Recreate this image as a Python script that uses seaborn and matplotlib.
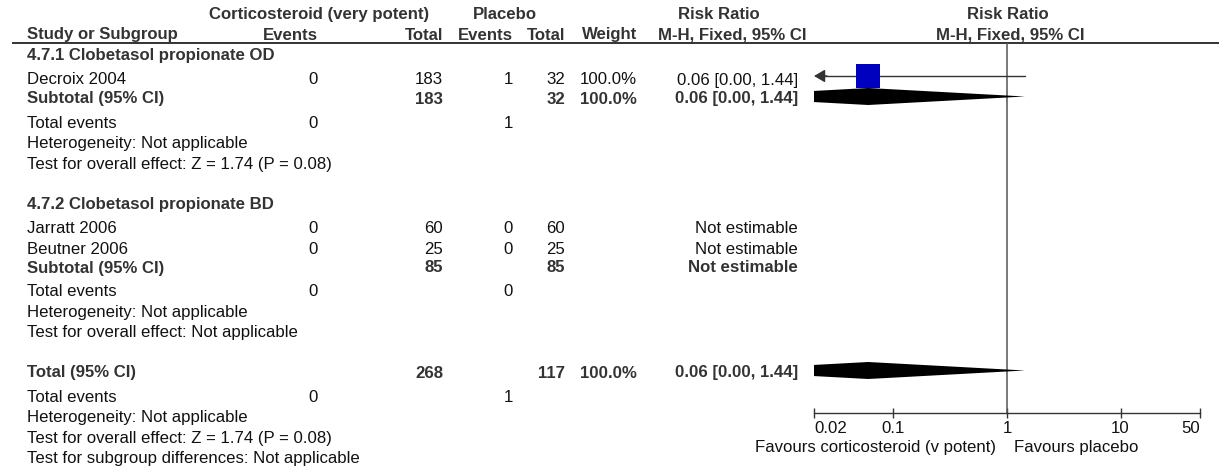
import numpy as np
import pandas as pd
import matplotlib
matplotlib.use("Agg")
import matplotlib.pyplot as plt
from matplotlib.ticker import FixedLocator, NullLocator
import seaborn as sns

# ---------------- data ----------------
group_titles = ["4.7.1 Clobetasol propionate OD", "4.7.2 Clobetasol propionate BD"]

study_names = ["Decroix 2004", "Jarratt 2006", "Beutner 2006"]
study_group = [0, 1, 1]
cs_events = [0, 0, 0]
cs_total = [183, 60, 25]
pl_events = [1, 0, 0]
pl_total = [32, 60, 25]
study_weight = [100.0, np.nan, np.nan]
study_rr = [0.06, np.nan, np.nan]
study_lo = [0.0025, np.nan, np.nan]
study_hi = [1.44, np.nan, np.nan]

sub_weight = [100.0, np.nan]
sub_rr = [0.06, np.nan]
sub_lo = [0.0025, np.nan]
sub_hi = [1.44, np.nan]
sub_heterogeneity = ["Heterogeneity: Not applicable", "Heterogeneity: Not applicable"]
sub_effect = ["Test for overall effect: Z = 1.74 (P = 0.08)",
              "Test for overall effect: Not applicable"]

total_weight = 100.0
total_rr = 0.06
total_lo = 0.0025
total_hi = 1.44
total_heterogeneity = "Heterogeneity: Not applicable"
total_effect = "Test for overall effect: Z = 1.74 (P = 0.08)"
subgroup_diff = "Test for subgroup differences: Not applicable"

axis_ticks = [0.02, 0.1, 1, 10, 50]
axis_tick_labels = ["0.02", "0.1", "1", "10", "50"]
favours_left = "Favours corticosteroid (v potent)"
favours_right = "Favours placebo"

# ---------------- style ----------------
sns.set_theme(style="white")
plt.rcParams["font.family"] = ["Liberation Sans", "DejaVu Sans"]
FS = 12.1
C_TXT = "#111111"
C_BOLD = "#333333"
C_LINE = "#333333"
C_SQUARE = "#0000BF"

W, H = 1219, 470
fig = plt.figure(figsize=(W / 100, H / 100), dpi=100)
fig.patch.set_facecolor("white")

# table layer in pixel units
ax_t = fig.add_axes([0, 0, 1, 1])
ax_t.set_xlim(0, W)
ax_t.set_ylim(H, 0)
ax_t.axis("off")

# forest layer: log risk-ratio axis
AX_LEFT, AX_RIGHT = 814, 1200
AX_TOP, AX_BOTTOM = 43.3, 412.7
ax_f = fig.add_axes([AX_LEFT / W, (H - AX_BOTTOM) / H,
                     (AX_RIGHT - AX_LEFT) / W, (AX_BOTTOM - AX_TOP) / H])
ax_f.patch.set_alpha(0)
ax_f.set_xscale("log")
ax_f.set_xlim(axis_ticks[0], axis_ticks[-1])
ax_f.set_ylim(AX_BOTTOM, AX_TOP)

COL_STUDY = 27
COL_CS_EV, COL_CS_TOT = 318, 443
COL_PL_EV, COL_PL_TOT = 513, 565
COL_WEIGHT, COL_RR = 637, 798


def put(x, y, s, ha="left", bold=False):
    ax_t.text(x, y, s, ha=ha, va="baseline", fontsize=FS,
              fontweight="bold" if bold else "normal",
              color=C_BOLD if bold else C_TXT)


def fmt_rr(rr, lo, hi):
    if np.isnan(rr):
        return "Not estimable"
    return f"{rr:.2f} [{lo:.2f}, {hi:.2f}]"


def diamond(y, rr, lo, hi, half=8.5):
    if np.isnan(rr):
        return
    ax_f.fill([lo, rr, hi, rr], [y, y - half, y, y + half],
              color="black", lw=0, zorder=3)


# ---------------- header ----------------
HDR1, HDR2 = 19, 39.5
put(209, HDR1, "Corticosteroid (very potent)", bold=True)
put(505, HDR1, "Placebo", ha="center", bold=True)
put(719, HDR1, "Risk Ratio", ha="center", bold=True)
put(1008, HDR1, "Risk Ratio", ha="center", bold=True)
put(COL_STUDY, HDR2, "Study or Subgroup", bold=True)
put(COL_CS_EV, HDR2, "Events", ha="right", bold=True)
put(COL_CS_TOT, HDR2, "Total", ha="right", bold=True)
put(COL_PL_EV, HDR2, "Events", ha="right", bold=True)
put(COL_PL_TOT, HDR2, "Total", ha="right", bold=True)
put(COL_WEIGHT, HDR2, "Weight", ha="right", bold=True)
put(807, HDR2, "M-H, Fixed, 95% CI", ha="right", bold=True)
put(1010, HDR2, "M-H, Fixed, 95% CI", ha="center", bold=True)
ax_t.plot([12, W], [AX_TOP, AX_TOP], color=C_LINE, lw=1.4, solid_capstyle="butt")

# ---------------- body ----------------
TITLE_TO_STUDY = 24.5
STUDY_STEP = 20.5
STUDY_TO_SUB = 19
SUB_TO_EVENTS = 24
LINE = 20.5
GAP = 40

y = 60
square_rows = []
for g, title in enumerate(group_titles):
    put(COL_STUDY, y, title, bold=True)
    idx = [i for i, sg in enumerate(study_group) if sg == g]
    y += TITLE_TO_STUDY
    for k, i in enumerate(idx):
        if k:
            y += STUDY_STEP
        put(COL_STUDY, y, study_names[i])
        put(COL_CS_EV, y, f"{cs_events[i]}", ha="right")
        put(COL_CS_TOT, y, f"{cs_total[i]}", ha="right")
        put(COL_PL_EV, y, f"{pl_events[i]}", ha="right")
        put(COL_PL_TOT, y, f"{pl_total[i]}", ha="right")
        if not np.isnan(study_weight[i]):
            put(COL_WEIGHT, y, f"{study_weight[i]:.1f}%", ha="right")
        put(COL_RR, y, fmt_rr(study_rr[i], study_lo[i], study_hi[i]), ha="right")
        if not np.isnan(study_rr[i]):
            square_rows.append(dict(rr=study_rr[i], lo=study_lo[i], hi=study_hi[i],
                                    w=study_weight[i], y=y - 8.5))
    y += STUDY_TO_SUB
    put(COL_STUDY, y, "Subtotal (95% CI)", bold=True)
    put(COL_CS_TOT, y, f"{sum(cs_total[i] for i in idx)}", ha="right", bold=True)
    put(COL_PL_TOT, y, f"{sum(pl_total[i] for i in idx)}", ha="right", bold=True)
    if not np.isnan(sub_weight[g]):
        put(COL_WEIGHT, y, f"{sub_weight[g]:.1f}%", ha="right", bold=True)
    put(COL_RR, y, fmt_rr(sub_rr[g], sub_lo[g], sub_hi[g]), ha="right", bold=True)
    diamond(y - 7, sub_rr[g], sub_lo[g], sub_hi[g])
    y += SUB_TO_EVENTS
    put(COL_STUDY, y, "Total events")
    put(COL_CS_EV, y, f"{sum(cs_events[i] for i in idx)}", ha="right")
    put(COL_PL_EV, y, f"{sum(pl_events[i] for i in idx)}", ha="right")
    y += LINE
    put(COL_STUDY, y, sub_heterogeneity[g])
    y += LINE
    put(COL_STUDY, y, sub_effect[g])
    y += GAP

put(COL_STUDY, y, "Total (95% CI)", bold=True)
put(COL_CS_TOT, y, f"{sum(cs_total)}", ha="right", bold=True)
put(COL_PL_TOT, y, f"{sum(pl_total)}", ha="right", bold=True)
put(COL_WEIGHT, y, f"{total_weight:.1f}%", ha="right", bold=True)
put(COL_RR, y, fmt_rr(total_rr, total_lo, total_hi), ha="right", bold=True)
diamond(y - 7, total_rr, total_lo, total_hi)
y += SUB_TO_EVENTS
put(COL_STUDY, y, "Total events")
put(COL_CS_EV, y, f"{sum(cs_events)}", ha="right")
put(COL_PL_EV, y, f"{sum(pl_events)}", ha="right")
for line in (total_heterogeneity, total_effect, subgroup_diff):
    y += LINE
    put(COL_STUDY, y, line)

# ---------------- forest marks ----------------
ax_f.axvline(1, color="#555555", lw=1.1, zorder=2)

xmin, xmax = ax_f.get_xlim()
for r in square_rows:
    lo_c, hi_c = max(r["lo"], xmin), min(r["hi"], xmax)
    ax_f.plot([lo_c * 1.08, hi_c], [r["y"], r["y"]], color=C_LINE, lw=1.0, zorder=3)
    if r["lo"] < xmin:
        ax_f.annotate("", xy=(xmin, r["y"]), xytext=(xmin * 1.3, r["y"]),
                      arrowprops=dict(arrowstyle="-|>,head_length=0.6,head_width=0.35",
                                      color=C_LINE, lw=1.0,
                                      mutation_scale=11, shrinkA=0, shrinkB=0),
                      zorder=3)

sq = pd.DataFrame(square_rows)
sns.scatterplot(data=sq, x="rr", y="y", ax=ax_f, marker="s", s=310,
                color=C_SQUARE, linewidth=0, legend=False, zorder=4)
ax_f.set_xlabel("")
ax_f.set_ylabel("")

# axis styling
for side in ("top", "left", "right"):
    ax_f.spines[side].set_visible(False)
ax_f.spines["bottom"].set_color(C_LINE)
ax_f.spines["bottom"].set_linewidth(1.0)
ax_f.xaxis.set_major_locator(FixedLocator(axis_ticks))
ax_f.xaxis.set_minor_locator(NullLocator())
ax_f.set_xticklabels(axis_tick_labels)
ax_f.set_yticks([])
ax_f.tick_params(axis="x", direction="inout", length=7.9, width=1.0,
                 color=C_LINE, pad=2, labelsize=FS, labelcolor=C_TXT,
                 bottom=True)
labels = ax_f.get_xticklabels()
labels[0].set_ha("left")
labels[-1].set_ha("right")

put(996, 452, favours_left, ha="right")
put(1014, 452, favours_right, ha="left")

fig.savefig("out.png", dpi=100, facecolor="white")
